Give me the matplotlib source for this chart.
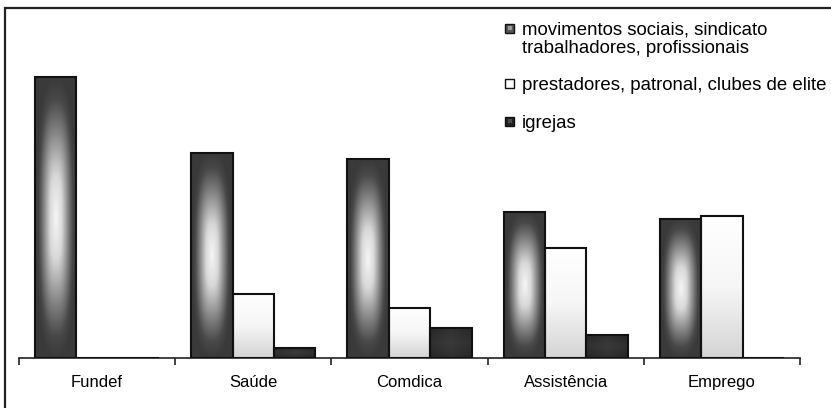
import numpy as np
import matplotlib
matplotlib.use("Agg")
import matplotlib.pyplot as plt
from matplotlib.patches import Rectangle
from matplotlib.legend_handler import HandlerBase
from matplotlib.colors import LinearSegmentedColormap

plt.rcParams['font.family'] = ['Liberation Sans', 'DejaVu Sans']

categories = ["Fundef", "Saúde", "Comdica", "Assistência", "Emprego"]
series_names = ["movimentos sociais, sindicato\ntrabalhadores, profissionais",
                "prestadores, patronal, clubes de elite",
                "igrejas"]
movimentos = [100.0, 73.0, 70.8, 52.0, 49.5]
prestadores = [0.0, 22.8, 17.8, 39.1, 50.5]
igrejas = [0.0, 3.6, 10.7, 8.2, 0.0]

W, H = 831, 408
fig = plt.figure(figsize=(W / 100, H / 100), dpi=100)
fig.patch.set_facecolor('white')

# outer frame (only top/left visible in the original crop)
fig.patches.append(Rectangle((5 / W, -0.1), 1.2, (H - 8) / H + 0.1,
                             transform=fig.transFigure, fill=False,
                             edgecolor='#222222', lw=1.6))

ax_left, ax_right = 19 / W, 800 / W
ax_bottom = (H - 358) / H
ymax = 120.0
ax_h = ymax * 2.81 / H
ax = fig.add_axes([ax_left, ax_bottom, ax_right - ax_left, ax_h])

x = np.arange(len(categories))
bw = 0.265
offsets = [-bw, 0, bw]
series = [movimentos, prestadores, igrejas]

# gradient images
ny, nx = 300, 120
yy, xx = np.mgrid[-1:1:ny * 1j, -1:1:nx * 1j]
p = 2.6
r = (np.abs(xx * 1.05) ** p + np.abs(yy * 1.0) ** p) ** (1 / p)
grad_mov = np.clip(r, 0, 1)
cmap_mov = LinearSegmentedColormap.from_list(
    'mov', [(0, '#f6f6f6'), (0.3, '#d8d8d8'), (0.65, '#7a7a7a'), (0.85, '#484848'), (1, '#3a3a3a')])
grad_pres = np.linspace(0, 1, ny)[:, None] * np.ones((1, nx))
cmap_pres = LinearSegmentedColormap.from_list('pres', ['#ffffff', '#f6f6f6', '#d4d4d4'])
grad_igr = np.abs(xx) * 0.5 + np.abs(yy) * 0.5
cmap_igr = LinearSegmentedColormap.from_list('igr', ['#3a3a3a', '#262626'])
grads = [(grad_mov, cmap_mov), (grad_pres, cmap_pres), (grad_igr, cmap_igr)]

for vals, off, (g, cm) in zip(series, offsets, grads):
    bars = ax.bar(x + off, vals, bw, facecolor='none', edgecolor='#111111',
                  linewidth=1.5, zorder=3)
    for b in bars:
        h = b.get_height()
        if h <= 0:
            continue
        x0 = b.get_x()
        im = ax.imshow(g, extent=[x0, x0 + b.get_width(), 0, h], origin='upper',
                       aspect='auto', cmap=cm, vmin=0, vmax=1, zorder=2,
                       interpolation='bilinear')
        im.set_clip_path(b)

ax.set_xlim(-0.5, len(categories) - 0.5)
ax.set_ylim(0, ymax)
for s in ['top', 'right', 'left']:
    ax.spines[s].set_visible(False)
ax.spines['bottom'].set_linewidth(1.2)
ax.spines['bottom'].set_color('#222222')
ax.set_yticks([])
ax.set_xticks(x)
ax.set_xticklabels(categories, fontsize=12)
ax.tick_params(axis='x', which='major', length=0, pad=12)
ax.set_xticks(np.arange(-0.5, len(categories)), minor=True)
ax.tick_params(axis='x', which='minor', length=5, width=1.2, direction='out', color='#222222')
ax.patch.set_alpha(0)


class BoxHandler(HandlerBase):
    def __init__(self, outer, inner, shift=0.0):
        super().__init__()
        self.outer = outer
        self.inner = inner
        self.shift = shift

    def create_artists(self, legend, orig_handle, xdescent, ydescent,
                       width, height, fontsize, trans):
        s = min(width, height)
        x0 = -xdescent + (width - s) / 2
        y0 = -ydescent + (height - s) / 2 + self.shift
        o = Rectangle((x0, y0), s, s, facecolor=self.outer, edgecolor='#111111',
                      lw=1.0, transform=trans)
        pd = s * 0.28
        i = Rectangle((x0 + pd, y0 + pd), s - 2 * pd, s - 2 * pd, facecolor=self.inner,
                      edgecolor='none', transform=trans)
        return [o, i]


h1 = Rectangle((0, 0), 1, 1)
h2 = Rectangle((0, 0), 1, 1)
h3 = Rectangle((0, 0), 1, 1)
leg = fig.legend([h1, h2, h3], series_names,
                 handler_map={h1: BoxHandler('#555555', '#9a9a9a', shift=7.5),
                              h2: BoxHandler('#fafafa', '#ffffff'),
                              h3: BoxHandler('#222222', '#4a4a4a')},
                 loc='upper left', bbox_to_anchor=(505 / W, 1 - 21 / H),
                 frameon=False, fontsize=13.4, handlelength=0.5, handleheight=0.5,
                 handletextpad=0.4, labelspacing=1.1, borderpad=0, borderaxespad=0)
for t in leg.get_texts():
    t.set_linespacing(1.15)

fig.savefig('out.png', dpi=100)
